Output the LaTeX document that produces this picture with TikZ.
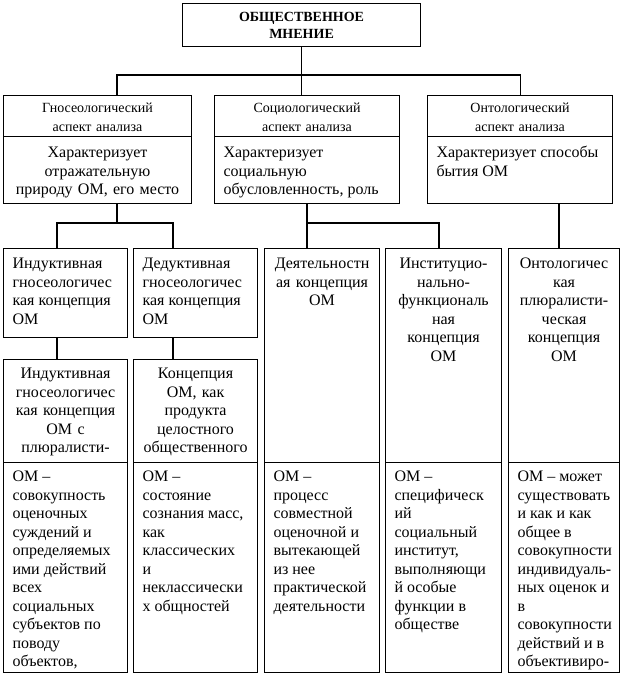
\documentclass[tikz,border=0pt]{standalone}
\usepackage{fontspec}
\setmainfont{Liberation Serif}
\usetikzlibrary{positioning, calc}

\begin{document}
\begin{tikzpicture}[
  x=1pt, y=-1pt,
  cell/.style n args={3}{draw, line width=1.1pt, anchor=north west,
              inner xsep=9pt, inner ysep=0pt,
              text width=#1, text height=#2, text depth=#3},
  head/.style={font=\fontsize{14}{19}\selectfont, align=center},
  body/.style={font=\fontsize{16}{18.5}\selectfont},
  link/.style={line width=1.1pt}
]
\useasboundingbox (0,0) rectangle (625,675);

\node[cell={220pt}{18pt}{25pt}, font=\fontsize{14}{17}\selectfont\bfseries,
      align=center] (om) at (182,3) {ОБЩЕСТВЕННОЕ\\МНЕНИЕ};

% three aspects of analysis
\node[cell={170pt}{17pt}{24pt}, head] (gnoHead) at (3,95)
  {Гносеологический\\аспект анализа};
\node[cell={170pt}{21pt}{46pt}, body, align=center] (gnoBody) at (3,136)
  {Характеризует\\отражательную\\природу ОМ, его место};

\node[cell={167pt}{17pt}{24pt}, head] (socHead) at (214,95)
  {Социологический\\аспект анализа};
\node[cell={167pt}{21pt}{46pt}, body, align=flush left] (socBody) at (214,136)
  {Характеризует\\социальную\\обусловленность, роль};

\node[cell={167pt}{17pt}{24pt}, head] (ontHead) at (427,95)
  {Онтологический\\аспект анализа};
\node[cell={167pt}{21pt}{46pt}, body, align=flush left] (ontBody) at (427,136)
  {Характеризует способы\\бытия ОМ};

% concepts
\node[cell={106pt}{20pt}{69pt}, body, align=flush left] (indGno) at (3,248)
  {Индуктивная\\гносеологичес\\кая концепция\\ОМ};
\node[cell={106pt}{20pt}{69pt}, body, align=flush left] (dedGno) at (133,248)
  {Дедуктивная\\гносеологичес\\кая концепция\\ОМ};
\node[cell={97pt}{20pt}{194pt}, body, align=center] (deyat) at (264,248)
  {Деятельностн\\ая концепция\\ОМ};
\node[cell={98pt}{20pt}{194pt}, body, align=center] (inst) at (385,248)
  {\mbox{Институцио-}\\\mbox{нально-}\\функциональ\\ная\\концепция\\ОМ};
\node[cell={93pt}{20pt}{194pt}, body, align=center] (ontPlur) at (508,248)
  {Онтологичес\\кая\\\mbox{плюралисти-}\\ческая\\концепция\\ОМ};

\node[cell={106pt}{19pt}{84pt}, body, align=center] (indPlur) at (3,359)
  {Индуктивная\\гносеологичес\\кая концепция\\ОМ с\\\mbox{плюралисти-}};
\node[cell={106pt}{19pt}{84pt}, body, align=center] (prodKonc) at (133,359)
  {Концепция\\ОМ, как\\продукта\\целостного\\общественного};

% definitions
\node[cell={106pt}{19pt}{191pt}, body, align=flush left] (indDef) at (3,462)
  {ОМ –\\совокупность\\оценочных\\суждений и\\определяемых\\ими действий\\всех\\социальных\\субъектов по\\поводу\\объектов,};
\node[cell={106pt}{19pt}{191pt}, body, align=flush left] (prodDef) at (133,462)
  {ОМ –\\состояние\\сознания масс,\\как\\классических\\и\\неклассически\\х общностей};
\node[cell={97pt}{19pt}{191pt}, body, align=flush left] (deyatDef) at (264,462)
  {ОМ –\\процесс\\совместной\\оценочной и\\вытекающей\\из нее\\практической\\деятельности};
\node[cell={98pt}{19pt}{191pt}, body, align=flush left] (instDef) at (385,462)
  {ОМ –\\специфическ\\ий\\социальный\\институт,\\выполняющи\\й особые\\функции в\\обществе};
\node[cell={93pt}{19pt}{191pt}, body, align=flush left] (ontDef) at (508,462)
  {ОМ – может\\существовать\\и как и как\\общее в\\совокупности\\\mbox{индивидуаль-}\\ных оценок и\\в\\совокупности\\действий и в\\\mbox{объективиро-}};

% connectors
\coordinate (bus) at (117,75);
\draw[link] (om.south) -- (om.south |- bus);
\draw[link] (bus |- gnoHead.north) -- (bus) -- (bus -| ontHead.north) -- (ontHead.north);
\draw[link] (om.south |- bus) -- (om.south |- socHead.north);

\coordinate (gnoFork) at (117,223);
\coordinate (indDrop) at (57,223);
\coordinate (dedDrop) at (173,223);
\draw[link] (gnoBody.south -| gnoFork) -- (gnoFork);
\draw[link] (indDrop |- indGno.north) -- (indDrop) -- (dedDrop) -- (dedDrop |- dedGno.north);

\coordinate (deyDrop) at (307,223);
\coordinate (instDrop) at (439,223);
\draw[link] (socBody.south -| deyDrop) -- (deyDrop |- deyat.north);
\draw[link] (deyDrop) -- (instDrop) -- (instDrop |- inst.north);

\coordinate (ontDrop) at (559,223);
\draw[link] (ontBody.south -| ontDrop) -- (ontDrop |- ontPlur.north);

\draw[link] (indGno.south -| indDrop) -- (indPlur.north -| indDrop);
\draw[link] (dedGno.south -| dedDrop) -- (prodKonc.north -| dedDrop);

\end{tikzpicture}
\end{document}
